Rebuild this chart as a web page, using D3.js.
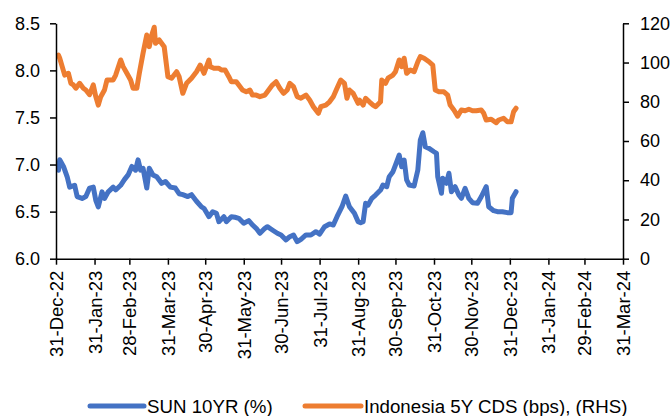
<!DOCTYPE html>
<html>
<head>
<meta charset="utf-8">
<script src="https://cdn.jsdelivr.net/npm/d3@7"></script>
<style>
  html, body { margin: 0; padding: 0; background: #fff; }
  svg { display: block; font-family: "Liberation Sans", Arial, sans-serif; }
</style>
</head>
<body>
<svg id="chart" width="672" height="416"></svg>
<script>
// ---------- DATA ----------
const seriesNames = ["SUN 10YR (%)", "Indonesia 5Y CDS (bps), (RHS)"];
const seriesColors = ["#4472C4", "#ED7D31"];

const xTickDates = ["2022-12-31","2023-01-31","2023-02-28","2023-03-31","2023-04-30","2023-05-31",
  "2023-06-30","2023-07-31","2023-08-31","2023-09-30","2023-10-31","2023-11-30","2023-12-31",
  "2024-01-31","2024-02-29","2024-03-31"];
const leftTicks = [6.0, 6.5, 7.0, 7.5, 8.0, 8.5];
const rightTicks = [0, 20, 40, 60, 80, 100, 120];

const sunDates = ["2023-01-02","2023-01-03","2023-01-06","2023-01-09","2023-01-11","2023-01-15","2023-01-17",
  "2023-01-21","2023-01-24","2023-01-27","2023-01-30","2023-02-01","2023-02-03","2023-02-06","2023-02-08",
  "2023-02-11","2023-02-15","2023-02-17","2023-02-21","2023-02-24","2023-02-27","2023-03-02","2023-03-05",
  "2023-03-07","2023-03-09","2023-03-11","2023-03-14","2023-03-16","2023-03-19","2023-03-22","2023-03-26",
  "2023-03-29","2023-04-02","2023-04-06","2023-04-09","2023-04-12","2023-04-16","2023-04-19","2023-04-23",
  "2023-04-27","2023-04-29","2023-05-03","2023-05-06","2023-05-09","2023-05-11","2023-05-15","2023-05-17",
  "2023-05-21","2023-05-24","2023-05-27","2023-05-31","2023-06-04","2023-06-07","2023-06-10","2023-06-13",
  "2023-06-17","2023-06-19","2023-06-23","2023-06-27","2023-06-30","2023-07-04","2023-07-07","2023-07-10",
  "2023-07-13","2023-07-16","2023-07-20","2023-07-24","2023-07-28","2023-07-31","2023-08-04","2023-08-08",
  "2023-08-11","2023-08-14","2023-08-18","2023-08-21","2023-08-24","2023-08-28","2023-08-31","2023-09-02",
  "2023-09-04","2023-09-06","2023-09-08","2023-09-11","2023-09-14","2023-09-18","2023-09-20","2023-09-23",
  "2023-09-25","2023-09-28","2023-09-30","2023-10-03","2023-10-05","2023-10-07","2023-10-09","2023-10-11",
  "2023-10-15","2023-10-18","2023-10-20","2023-10-22","2023-10-24","2023-10-27","2023-10-31","2023-11-02",
  "2023-11-03","2023-11-06","2023-11-07","2023-11-10","2023-11-12","2023-11-14","2023-11-17","2023-11-20",
  "2023-11-22","2023-11-25","2023-11-28","2023-12-01","2023-12-05","2023-12-08","2023-12-12","2023-12-14",
  "2023-12-18","2023-12-21","2023-12-25","2023-12-29","2024-01-01","2024-01-02","2024-01-05"];
const sunValues = [6.94,7.05,6.98,6.87,6.76,6.78,6.66,
  6.64,6.66,6.75,6.76,6.62,6.55,6.71,6.64,
  6.71,6.76,6.73,6.78,6.84,6.89,6.98,6.94,
  7.05,6.94,6.96,6.75,6.96,6.89,6.87,6.80,
  6.82,6.76,6.75,6.69,6.68,6.66,6.68,6.61,
  6.55,6.535,6.446,6.499,6.482,6.393,6.446,6.393,
  6.446,6.44,6.429,6.376,6.404,6.358,6.323,6.27,
  6.323,6.34,6.305,6.27,6.252,6.199,6.234,6.252,
  6.181,6.206,6.252,6.252,6.287,6.262,6.34,6.369,
  6.358,6.446,6.552,6.666,6.552,6.482,6.393,6.382,
  6.393,6.588,6.57,6.641,6.676,6.729,6.783,6.765,
  6.871,6.924,6.995,7.101,6.977,7.048,6.836,6.783,
  6.772,6.942,7.261,7.338,7.189,7.172,7.136,7.119,
  6.871,6.695,6.854,6.801,6.907,6.712,6.765,6.676,
  6.641,6.748,6.641,6.595,6.588,6.658,6.765,6.552,
  6.51,6.499,6.499,6.489,6.489,6.641,6.712];

const cdsDates = ["2023-01-02","2023-01-03","2023-01-05","2023-01-07","2023-01-10","2023-01-12","2023-01-14",
  "2023-01-16","2023-01-19","2023-01-22","2023-01-24","2023-01-27","2023-01-30","2023-02-01","2023-02-03",
  "2023-02-05","2023-02-08","2023-02-10","2023-02-13","2023-02-15","2023-02-17","2023-02-21","2023-02-23",
  "2023-02-26","2023-03-01","2023-03-03","2023-03-06","2023-03-08","2023-03-11","2023-03-14","2023-03-16",
  "2023-03-18","2023-03-20","2023-03-21","2023-03-24","2023-03-28","2023-03-31","2023-04-03","2023-04-07",
  "2023-04-09","2023-04-12","2023-04-15","2023-04-19","2023-04-23","2023-04-26","2023-04-29","2023-05-03",
  "2023-05-04","2023-05-07","2023-05-11","2023-05-13","2023-05-16","2023-05-19","2023-05-21","2023-05-25",
  "2023-05-27","2023-05-30","2023-06-02","2023-06-05","2023-06-07","2023-06-10","2023-06-13","2023-06-17",
  "2023-06-19","2023-06-23","2023-06-26","2023-06-29","2023-07-02","2023-07-05","2023-07-07","2023-07-10",
  "2023-07-13","2023-07-16","2023-07-20","2023-07-23","2023-07-26","2023-07-30","2023-08-01","2023-08-05",
  "2023-08-08","2023-08-11","2023-08-14","2023-08-17","2023-08-20","2023-08-22","2023-08-24","2023-08-27",
  "2023-08-31","2023-09-01","2023-09-04","2023-09-06","2023-09-09","2023-09-12","2023-09-14","2023-09-18",
  "2023-09-19","2023-09-22","2023-09-24","2023-09-28","2023-09-30","2023-10-03","2023-10-05","2023-10-07",
  "2023-10-09","2023-10-12","2023-10-15","2023-10-18","2023-10-20","2023-10-23","2023-10-27","2023-10-30",
  "2023-11-01","2023-11-04","2023-11-08","2023-11-11","2023-11-13","2023-11-16","2023-11-19","2023-11-22",
  "2023-11-25","2023-11-28","2023-12-01","2023-12-04","2023-12-08","2023-12-10","2023-12-12","2023-12-16",
  "2023-12-20","2023-12-22","2023-12-26","2023-12-29","2024-01-01","2024-01-03","2024-01-05"];
const cdsValues = [103.8,102.2,97.9,93.6,94.5,89.4,88.6,
  86.9,89.4,86.9,86.0,83.6,88.6,82.6,78.3,
  82.6,86.0,91.1,91.1,91.1,93.6,101.3,97.9,
  94.5,91.1,86.9,86.9,94.5,104.7,114.0,108.1,
  114.0,118.0,109.8,111.5,108.1,92.8,92.0,95.3,
  92.8,84.3,89.4,92.0,95.3,98.7,94.5,101.3,
  97.9,97.1,97.1,96.2,96.2,92.8,90.2,90.2,
  88.5,86.0,85.1,86.0,83.4,83.4,82.6,83.4,
  85.1,88.5,90.2,86.9,84.3,86.0,89.4,87.7,
  82.6,81.8,83.4,80.9,77.5,74.1,77.5,78.3,
  80.0,82.6,86.9,91.1,89.4,81.8,86.0,84.3,
  79.2,80.9,78.3,81.8,80.0,78.3,77.5,80.0,
  91.1,89.4,92.0,93.6,95.3,101.3,97.9,102.2,
  94.5,96.2,95.3,100.4,103.0,102.2,100.4,98.7,
  86.0,85.1,85.1,83.4,78.3,75.8,72.7,75.8,
  75.4,76.2,75.4,75.4,75.8,74.1,70.7,71.1,
  69.3,70.7,71.6,69.8,69.8,74.9,76.7];

// ---------- CHART ----------
const parse = d3.timeParse("%Y-%m-%d");
const fmt = d3.timeFormat("%d-%b-%y");
const svg = d3.select("#chart");

const plotLeft = 56, plotRight = 623, plotTop = 23.3, plotBottom = 258.7;
const x = d3.scaleTime().domain([parse(xTickDates[0]), parse(xTickDates[xTickDates.length - 1])]).range([plotLeft, plotRight]);
const yL = d3.scaleLinear().domain([6.0, 8.5]).range([plotBottom, plotTop]);
const yR = d3.scaleLinear().domain([0, 120]).range([plotBottom, plotTop]);

const sunData = sunDates.map((d, i) => ({ date: parse(d), v: sunValues[i] }));
const cdsData = cdsDates.map((d, i) => ({ date: parse(d), v: cdsValues[i] }));

const lineL = d3.line().x(d => x(d.date)).y(d => yL(d.v));
const lineR = d3.line().x(d => x(d.date)).y(d => yR(d.v));

svg.append("path").datum(cdsData).attr("d", lineR)
  .attr("fill", "none").attr("stroke", seriesColors[1]).attr("stroke-width", 5)
  .attr("stroke-linejoin", "round").attr("stroke-linecap", "round");
svg.append("path").datum(sunData).attr("d", lineL)
  .attr("fill", "none").attr("stroke", seriesColors[0]).attr("stroke-width", 5)
  .attr("stroke-linejoin", "round").attr("stroke-linecap", "round");

function styleAxis(g) {
  g.select(".domain").attr("stroke", "#000").attr("stroke-width", 1.5);
  g.selectAll(".tick line").attr("stroke", "#000").attr("stroke-width", 1.5);
  g.selectAll("text").attr("fill", "#000").style("font-size", "18px")
    .style("font-family", "'Liberation Sans', Arial, sans-serif");
}

const gL = svg.append("g").attr("transform", `translate(${plotLeft},0)`)
  .call(d3.axisLeft(yL).tickValues(leftTicks).tickFormat(d3.format(".1f")).tickSize(6).tickSizeOuter(0).tickPadding(10));
styleAxis(gL);

const gR = svg.append("g").attr("transform", `translate(${plotRight},0)`)
  .call(d3.axisRight(yR).tickValues(rightTicks).tickFormat(d3.format("d")).tickSize(6).tickSizeOuter(0).tickPadding(11));
styleAxis(gR);

const gX = svg.append("g").attr("transform", `translate(0,${plotBottom})`)
  .call(d3.axisBottom(x).tickValues(xTickDates.map(parse)).tickFormat(fmt).tickSize(6).tickSizeOuter(0).tickPadding(6));
styleAxis(gX);
gX.selectAll(".tick text")
  .style("font-size", "18.5px")
  .attr("transform", "rotate(-90)")
  .attr("text-anchor", "end")
  .attr("x", -12)
  .attr("y", 0)
  .attr("dy", "0.35em");

// ---------- LEGEND ----------
const legendItems = [
  { name: seriesNames[0], color: seriesColors[0], x1: 90, x2: 144 },
  { name: seriesNames[1], color: seriesColors[1], x1: 305, x2: 361 }
];
const lg = svg.append("g");
legendItems.forEach(it => {
  lg.append("line").attr("x1", it.x1).attr("x2", it.x2).attr("y1", 406).attr("y2", 406)
    .attr("stroke", it.color).attr("stroke-width", 5).attr("stroke-linecap", "round");
  lg.append("text").attr("x", it.x2 + 3).attr("y", 413).text(it.name)
    .style("font-size", "18.7px").attr("fill", "#000");
});
</script>
</body>
</html>
